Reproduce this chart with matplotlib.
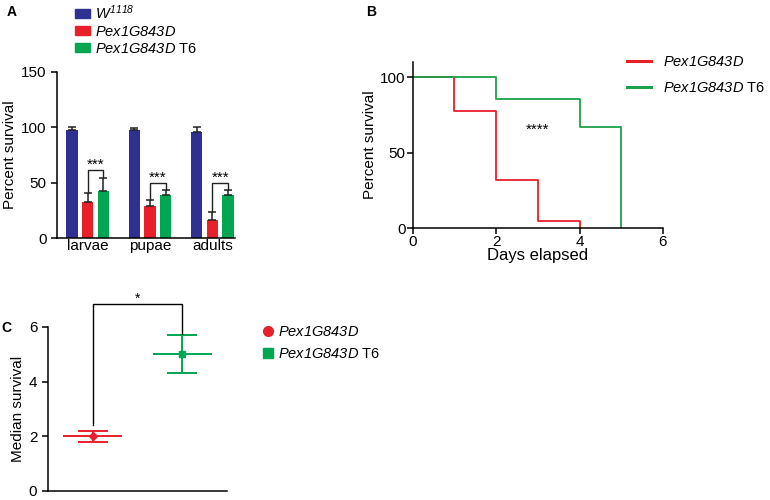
import numpy as np
import matplotlib
matplotlib.use('Agg')
import matplotlib.pyplot as plt
from matplotlib.patches import Patch
from matplotlib.lines import Line2D

plt.rcParams['font.family'] = ['Liberation Sans', 'DejaVu Sans']
# digits in mathtext use the "rm" font -> make it italic, use sf for upright text
plt.rcParams['mathtext.fontset'] = 'custom'
plt.rcParams['mathtext.rm'] = 'Liberation Sans:italic'
plt.rcParams['mathtext.it'] = 'Liberation Sans:italic'
plt.rcParams['mathtext.sf'] = 'Liberation Sans'
plt.rcParams['axes.linewidth'] = 1.1

BLUE, RED, GREEN = '#2E3192', '#E8202A', '#00A651'

# ---- panel A data
stages      = ['larvae', 'pupae', 'adults']
w1118_mean  = [97.7, 97.7, 95.6]
w1118_err   = [3.0, 1.5, 5.1]
pex_mean    = [32.7, 28.7, 16.6]
pex_err     = [8.1, 5.5, 7.0]
t6_mean     = [42.6, 38.7, 38.7]
t6_err      = [11.2, 4.5, 4.5]
sig_a_y     = [61, 49.5, 49.5]

# ---- panel B data (Kaplan-Meier)
pex_days    = [0, 1, 2, 3, 4]
pex_surv    = [100, 77.3, 31.8, 4.5, 0]
t6_days     = [0, 2, 4, 5]
t6_surv     = [100, 85.7, 66.7, 0]

# ---- panel C data
groups      = ['Pex1G843D', 'Pex1G843D T6']
median_surv = [2.0, 5.0]
median_sem  = [0.2, 0.7]

lab_pex = r'$Pex1G843D$'
lab_t6  = r'$Pex1G843D\ \mathsf{T6}$'
lab_w   = r'$W^{1118}$'

fig = plt.figure(figsize=(7.7, 5.0), dpi=100)

# ================= A
axA = fig.add_axes([0.074, 0.524, 0.231, 0.332])
x = np.arange(len(stages))
bw, off = 0.18, 0.25
ekw = dict(capsize=3, elinewidth=1.1, capthick=1.1, ecolor='#222222')
for vals, errs, col, dx in [(w1118_mean, w1118_err, BLUE, -off),
                            (pex_mean, pex_err, RED, 0),
                            (t6_mean, t6_err, GREEN, off)]:
    axA.bar(x + dx, vals, bw, color=col, zorder=2)
    axA.errorbar(x + dx, vals, yerr=[np.zeros(len(errs)), errs], fmt='none', zorder=3, **ekw)
for i in range(len(stages)):
    y0 = sig_a_y[i]
    axA.plot([x[i], x[i], x[i] + off, x[i] + off],
             [pex_mean[i] + pex_err[i], y0, y0, t6_mean[i] + t6_err[i]],
             color='#222222', lw=1.0)
    axA.text(x[i] + off / 2, y0 - 1.5, '***', ha='center', va='bottom', fontsize=11)
axA.set_xlim(-0.49, 2.36)
axA.set_ylim(0, 150)
axA.set_yticks([0, 50, 100, 150])
axA.set_xticks(x)
axA.set_xticklabels(stages)
axA.tick_params(axis='x', length=0, pad=1, labelsize=11)
axA.tick_params(axis='y', labelsize=11, length=4, width=1.1)
axA.set_ylabel('Percent survival', fontsize=11, labelpad=3)
for s in ['top', 'right']:
    axA.spines[s].set_visible(False)

handlesA = [Patch(color=BLUE, label=lab_w), Patch(color=RED, label=lab_pex),
            Patch(color=GREEN, label=lab_t6)]
fig.legend(handles=handlesA, loc='upper left', bbox_to_anchor=(0.090, 1.005),
           frameon=False, fontsize=10.5, handlelength=1.0, handleheight=0.6,
           handletextpad=0.35, labelspacing=0.2, borderaxespad=0)

# ================= B
axB = fig.add_axes([0.536, 0.544, 0.325, 0.332])
axB.step(pex_days, pex_surv, where='post', color=RED, lw=1.3)
axB.step(t6_days, t6_surv, where='post', color='#1BA14B', lw=1.3)
axB.text(3, 65, '****', ha='center', va='center', fontsize=11)
axB.set_xlim(0, 6)
axB.set_ylim(0, 110)
axB.set_xticks([0, 2, 4, 6])
axB.set_yticks([0, 50, 100])
axB.spines['left'].set_bounds(0, 110)
axB.tick_params(labelsize=11, length=4, width=1.1, pad=1)
axB.set_xlabel('Days elapsed', fontsize=12, labelpad=-1)
axB.set_ylabel('Percent survival', fontsize=11, labelpad=2)
for s in ['top', 'right']:
    axB.spines[s].set_visible(False)
handlesB = [Line2D([], [], color=RED, lw=2.2, label=lab_pex),
            Line2D([], [], color='#1BA14B', lw=2.2, label=lab_t6)]
fig.legend(handles=handlesB, loc='upper left', bbox_to_anchor=(0.807, 0.902),
           frameon=False, fontsize=10.5, handlelength=1.6, handletextpad=0.85,
           labelspacing=0.85, borderaxespad=0)

# ================= C
axC = fig.add_axes([0.062, 0.018, 0.233, 0.328])
xc = np.array([1, 2])
colsC = [RED, GREEN]
marks = ['D', 's']
for i in range(len(groups)):
    axC.hlines(median_surv[i], xc[i] - 0.33, xc[i] + 0.33, color=colsC[i], lw=1.4)
    axC.errorbar(xc[i], median_surv[i], yerr=median_sem[i], fmt=marks[i], color=colsC[i],
                 ms=4.5, capsize=11, elinewidth=1.4, capthick=1.4)
top = 6.83
axC.plot([1, 1, 2, 2], [2.4, top, top, 5.76], color='black', lw=1.0, clip_on=False)
axC.text(1.5, top - 0.05, '*', ha='center', va='bottom', fontsize=10)
axC.set_xlim(0.5, 2.5)
axC.set_ylim(0, 6)
axC.set_yticks([0, 2, 4, 6])
axC.set_xticks([])
axC.tick_params(labelsize=11, length=4, width=1.1)
axC.set_ylabel('Median survival', fontsize=11, labelpad=3)
for s in ['top', 'right']:
    axC.spines[s].set_visible(False)
handlesC = [Line2D([], [], color=RED, marker='o', ls='none', ms=7, label=lab_pex),
            Line2D([], [], color=GREEN, marker='s', ls='none', ms=7, label=lab_t6)]
fig.legend(handles=handlesC, loc='upper left', bbox_to_anchor=(0.335, 0.362),
           frameon=False, fontsize=10.5, handlelength=0.6, handletextpad=0.4,
           labelspacing=0.55, borderaxespad=0)

# panel letters
fig.text(0.008, 0.99, 'A', fontsize=10, fontweight='bold', va='top')
fig.text(0.475, 0.99, 'B', fontsize=10, fontweight='bold', va='top')
fig.text(0.002, 0.358, 'C', fontsize=10, fontweight='bold', va='top')

fig.savefig('out.png', dpi=100)
